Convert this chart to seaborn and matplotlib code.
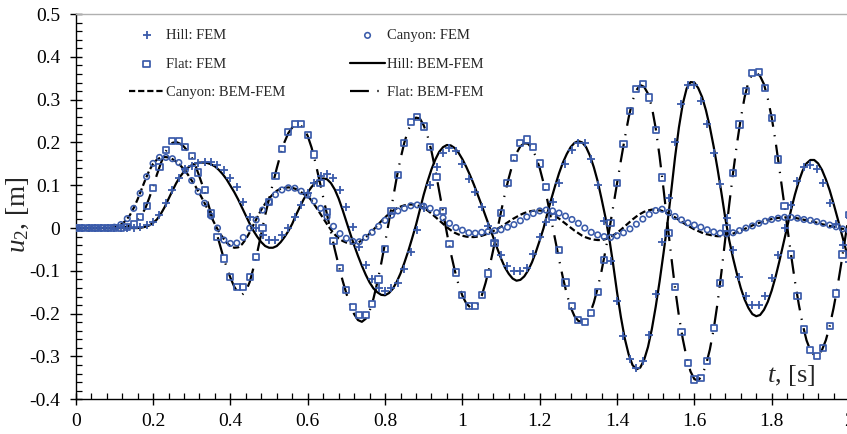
import numpy as np
import pandas as pd
import matplotlib
matplotlib.use("Agg")
import matplotlib.pyplot as plt
from matplotlib.ticker import MultipleLocator, FuncFormatter
import seaborn as sns

# ---------------- data ----------------
# FEM results are sampled every 1/60 s, BEM-FEM curves every 0.01 s
t_fem = np.linspace(0.0, 2.0, 121)
t_bem = np.linspace(0.0, 2.0, 201)

hill_fem = [
    0, 0, 0, 0, 0, 0, 0, 0, 0, 0,
    0.002, 0.007, 0.015, 0.030, 0.058, 0.089, 0.118, 0.137, 0.146, 0.151,
    0.155, 0.155, 0.148, 0.136, 0.117, 0.095, 0.062, 0.026, 0.000, -0.016,
    -0.028, -0.028, -0.016, 0.000, 0.026, 0.054, 0.083, 0.106, 0.122, 0.127,
    0.116, 0.089, 0.050, 0.003, -0.045, -0.086, -0.118, -0.140, -0.146, -0.141,
    -0.128, -0.096, -0.057, -0.005, 0.048, 0.100, 0.142, 0.175, 0.186, 0.181,
    0.150, 0.115, 0.085, 0.050, 0.005, -0.030, -0.063, -0.089, -0.100, -0.101,
    -0.094, -0.060, -0.020, 0.015, 0.060, 0.106, 0.150, 0.182, 0.199, 0.198,
    0.161, 0.100, 0.016, -0.077, -0.170, -0.253, -0.307, -0.328, -0.310, -0.250,
    -0.153, -0.032, 0.070, 0.200, 0.290, 0.334, 0.334, 0.297, 0.243, 0.176,
    0.103, 0.023, -0.051, -0.114, -0.159, -0.180, -0.180, -0.159, -0.117, -0.063,
    0.000, 0.054, 0.111, 0.143, 0.147, 0.137, 0.105, 0.059, 0.010, -0.040,
    -0.080,
]

canyon_fem = [
    0, 0, 0, 0, 0, 0, 0.002, 0.008, 0.022, 0.046,
    0.081, 0.120, 0.151, 0.165, 0.165, 0.162, 0.153, 0.135, 0.111, 0.085,
    0.058, 0.028, 0.000, -0.028, -0.036, -0.035, -0.022, 0.000, 0.019, 0.042,
    0.061, 0.078, 0.089, 0.094, 0.093, 0.086, 0.077, 0.063, 0.046, 0.026,
    0.004, -0.013, -0.024, -0.031, -0.032, -0.022, -0.010, 0.004, 0.018, 0.030,
    0.040, 0.046, 0.052, 0.054, 0.051, 0.046, 0.036, 0.024, 0.011, 0.001,
    -0.005, -0.011, -0.012, -0.010, -0.008, -0.006, -0.004, 0.002, 0.008, 0.017,
    0.026, 0.034, 0.040, 0.042, 0.040, 0.035, 0.028, 0.020, 0.011, 0.000,
    -0.010, -0.016, -0.020, -0.022, -0.018, -0.011, -0.002, 0.009, 0.021, 0.032,
    0.041, 0.044, 0.037, 0.027, 0.019, 0.012, 0.007, 0.002, -0.004, -0.009,
    -0.012, -0.013, -0.011, -0.006, 0.000, 0.005, 0.011, 0.016, 0.020, 0.023,
    0.025, 0.025, 0.023, 0.020, 0.018, 0.015, 0.011, 0.007, 0.003, -0.002,
    -0.006,
]

flat_fem = [
    0, 0, 0, 0, 0, 0, 0, 0.000, 0.003, 0.009,
    0.025, 0.052, 0.094, 0.143, 0.182, 0.203, 0.203, 0.189, 0.168, 0.130,
    0.089, 0.034, -0.020, -0.071, -0.114, -0.137, -0.137, -0.114, -0.067, 0.000,
    0.060, 0.121, 0.184, 0.225, 0.243, 0.243, 0.217, 0.172, 0.105, 0.038,
    -0.030, -0.094, -0.145, -0.184, -0.203, -0.203, -0.178, -0.120, -0.049, 0.040,
    0.124, 0.198, 0.247, 0.260, 0.237, 0.189, 0.120, 0.040, -0.037, -0.104,
    -0.157, -0.183, -0.182, -0.157, -0.106, -0.035, 0.036, 0.106, 0.164, 0.198,
    0.207, 0.190, 0.151, 0.095, 0.025, -0.051, -0.127, -0.182, -0.215, -0.220,
    -0.198, -0.149, -0.075, 0.012, 0.106, 0.196, 0.274, 0.324, 0.336, 0.305,
    0.229, 0.118, -0.011, -0.137, -0.242, -0.315, -0.354, -0.351, -0.310, -0.234,
    -0.128, 0.000, 0.129, 0.242, 0.320, 0.363, 0.365, 0.328, 0.258, 0.160,
    0.051, -0.062, -0.159, -0.237, -0.285, -0.299, -0.280, -0.229, -0.153, -0.062,
    0.030,
]

hill_bem = [
    0, 0, 0, 0, 0, 0, 0, 0, 0, 0,
    0, 0, 0, 0, 0, 0, 0, 0.001, 0.003, 0.006,
    0.012, 0.020, 0.033, 0.049, 0.068, 0.087, 0.105, 0.120, 0.132, 0.141,
    0.147, 0.151, 0.153, 0.153, 0.152, 0.149, 0.144, 0.136, 0.126, 0.114,
    0.099, 0.084, 0.067, 0.048, 0.029, 0.010, -0.007, -0.021, -0.033, -0.042,
    -0.046, -0.046, -0.042, -0.033, -0.021, -0.007, 0.010, 0.031, 0.050, 0.068,
    0.083, 0.096, 0.106, 0.113, 0.116, 0.114, 0.105, 0.090, 0.069, 0.043,
    0.015, -0.013, -0.040, -0.065, -0.088, -0.109, -0.127, -0.141, -0.150, -0.156,
    -0.157, -0.152, -0.142, -0.126, -0.106, -0.081, -0.054, -0.024, 0.007, 0.043,
    0.078, 0.109, 0.137, 0.160, 0.178, 0.189, 0.194, 0.193, 0.187, 0.176,
    0.161, 0.143, 0.123, 0.101, 0.077, 0.053, 0.028, 0.003, -0.022, -0.047,
    -0.071, -0.092, -0.107, -0.118, -0.123, -0.121, -0.113, -0.099, -0.080, -0.056,
    -0.029, 0.000, 0.035, 0.068, 0.099, 0.128, 0.153, 0.173, 0.189, 0.199,
    0.203, 0.200, 0.189, 0.169, 0.142, 0.109, 0.068, 0.025, -0.025, -0.085,
    -0.150, -0.208, -0.258, -0.295, -0.320, -0.330, -0.326, -0.308, -0.278, -0.236,
    -0.184, -0.125, -0.060, 0.008, 0.085, 0.165, 0.235, 0.290, 0.326, 0.341,
    0.340, 0.327, 0.306, 0.275, 0.236, 0.190, 0.138, 0.082, 0.023, -0.028,
    -0.070, -0.107, -0.140, -0.167, -0.187, -0.201, -0.206, -0.203, -0.191, -0.172,
    -0.146, -0.114, -0.077, -0.037, 0.004, 0.042, 0.078, 0.109, 0.134, 0.151,
    0.159, 0.159, 0.151, 0.136, 0.114, 0.088, 0.057, 0.024, -0.010, -0.045,
    -0.078,
]

canyon_bem = [
    0, 0, 0, 0, 0, 0, 0, 0, 0, 0,
    0.002, 0.005, 0.010, 0.018, 0.030, 0.047, 0.067, 0.090, 0.113, 0.134,
    0.150, 0.160, 0.165, 0.166, 0.165, 0.161, 0.155, 0.147, 0.137, 0.125,
    0.111, 0.097, 0.081, 0.064, 0.046, 0.027, 0.009, -0.008, -0.022, -0.034,
    -0.042, -0.046, -0.045, -0.038, -0.026, -0.010, 0.008, 0.026, 0.043, 0.057,
    0.069, 0.079, 0.087, 0.092, 0.094, 0.095, 0.094, 0.091, 0.086, 0.079,
    0.075, 0.064, 0.051, 0.037, 0.023, 0.009, -0.004, -0.015, -0.024, -0.030,
    -0.034, -0.036, -0.036, -0.034, -0.029, -0.022, -0.013, -0.004, 0.006, 0.016,
    0.025, 0.033, 0.040, 0.046, 0.050, 0.053, 0.055, 0.055, 0.054, 0.051,
    0.047, 0.041, 0.034, 0.026, 0.018, 0.010, 0.002, -0.005, -0.011, -0.015,
    -0.018, -0.020, -0.021, -0.021, -0.020, -0.018, -0.015, -0.011, -0.007, -0.002,
    0.003, 0.009, 0.015, 0.021, 0.026, 0.031, 0.035, 0.038, 0.040, 0.041,
    0.041, 0.040, 0.037, 0.033, 0.028, 0.022, 0.015, 0.008, 0.001, -0.006,
    -0.012, -0.018, -0.022, -0.025, -0.027, -0.028, -0.028, -0.026, -0.022, -0.017,
    -0.011, -0.004, 0.004, 0.012, 0.020, 0.027, 0.033, 0.038, 0.041, 0.043,
    0.043, 0.042, 0.039, 0.035, 0.030, 0.025, 0.019, 0.013, 0.007, 0.002,
    -0.003, -0.007, -0.011, -0.014, -0.016, -0.018, -0.019, -0.019, -0.018, -0.016,
    -0.013, -0.010, -0.006, -0.002, 0.002, 0.006, 0.010, 0.013, 0.016, 0.019,
    0.021, 0.023, 0.024, 0.025, 0.025, 0.025, 0.024, 0.022, 0.020, 0.018,
    0.016, 0.014, 0.012, 0.009, 0.007, 0.005, 0.003, 0.001, -0.001, -0.003,
    -0.005,
]

flat_bem = [
    0, 0, 0, 0, 0, 0, 0, 0, 0, 0,
    0, 0, 0.001, 0.003, 0.006, 0.011, 0.019, 0.030, 0.046, 0.070,
    0.096, 0.125, 0.151, 0.174, 0.190, 0.199, 0.201, 0.197, 0.190, 0.179,
    0.165, 0.145, 0.120, 0.094, 0.064, 0.034, 0.002, -0.030, -0.062, -0.091,
    -0.116, -0.137, -0.152, -0.156, -0.148, -0.126, -0.092, -0.055, -0.013, 0.030,
    0.068, 0.104, 0.140, 0.173, 0.201, 0.222, 0.235, 0.241, 0.241, 0.233,
    0.215, 0.188, 0.153, 0.113, 0.072, 0.031, -0.010, -0.050, -0.087, -0.122,
    -0.153, -0.180, -0.201, -0.215, -0.219, -0.212, -0.194, -0.165, -0.127, -0.083,
    -0.035, 0.016, 0.068, 0.117, 0.162, 0.200, 0.229, 0.249, 0.258, 0.256,
    0.240, 0.215, 0.180, 0.136, 0.087, 0.037, -0.012, -0.058, -0.098, -0.132,
    -0.158, -0.176, -0.185, -0.186, -0.177, -0.158, -0.128, -0.092, -0.050, -0.006,
    0.038, 0.080, 0.117, 0.150, 0.175, 0.191, 0.198, 0.197, 0.186, 0.167,
    0.140, 0.105, 0.064, 0.019, -0.027, -0.073, -0.116, -0.154, -0.185, -0.206,
    -0.217, -0.219, -0.213, -0.200, -0.174, -0.140, -0.100, -0.053, -0.004, 0.050,
    0.104, 0.158, 0.210, 0.258, 0.297, 0.322, 0.334, 0.330, 0.314, 0.283,
    0.233, 0.168, 0.093, 0.014, -0.065, -0.140, -0.205, -0.259, -0.303, -0.335,
    -0.353, -0.356, -0.344, -0.320, -0.284, -0.236, -0.175, -0.103, -0.025, 0.054,
    0.128, 0.196, 0.256, 0.306, 0.342, 0.360, 0.363, 0.355, 0.336, 0.302,
    0.258, 0.202, 0.138, 0.072, 0.004, -0.062, -0.124, -0.178, -0.225, -0.262,
    -0.286, -0.297, -0.297, -0.285, -0.262, -0.229, -0.187, -0.138, -0.082, -0.024,
    0.034,
]

x_ticks = [0, 0.2, 0.4, 0.6, 0.8, 1.0, 1.2, 1.4, 1.6, 1.8, 2.0]
y_ticks = [-0.4, -0.3, -0.2, -0.1, 0.0, 0.1, 0.2, 0.3, 0.4, 0.5]

# ---------------- style ----------------
sns.set_style("ticks")
plt.rcParams["font.family"] = ["Liberation Serif", "DejaVu Serif"]
plt.rcParams["mathtext.fontset"] = "custom"
plt.rcParams["mathtext.rm"] = "Liberation Serif"
plt.rcParams["mathtext.it"] = "Liberation Serif:italic"
plt.rcParams["axes.unicode_minus"] = False

BLUE = "#3A5BAA"

fem = pd.DataFrame({"t": t_fem, "hill": hill_fem, "canyon": canyon_fem, "flat": flat_fem})
bem = pd.DataFrame({"t": t_bem, "hill": hill_bem, "canyon": canyon_bem, "flat": flat_bem})

fig = plt.figure(figsize=(8.47, 4.34), dpi=100)
ax = fig.add_axes([0.0894, 0.080, 0.9130, 0.8877])

LW = 1.6
sns.lineplot(data=bem, x="t", y="hill", ax=ax, color="black", linewidth=LW,
             estimator=None, sort=False, label="Hill: BEM-FEM", zorder=2)
sns.lineplot(data=bem, x="t", y="canyon", ax=ax, color="black", linewidth=LW,
             linestyle=(0, (2.8, 1.3)), estimator=None, sort=False,
             label="Canyon: BEM-FEM", zorder=2)
sns.lineplot(data=bem, x="t", y="flat", ax=ax, color="black", linewidth=LW,
             linestyle=(0, (8.5, 3.8, 0.6, 3.8)), estimator=None, sort=False,
             label="Flat: BEM-FEM", zorder=2)

sns.scatterplot(data=fem, x="t", y="hill", ax=ax, marker="+", color=BLUE,
                s=34, linewidth=1.3, label="Hill: FEM", zorder=3)
sns.scatterplot(data=fem, x="t", y="canyon", ax=ax, marker="o", facecolor="none",
                edgecolor=BLUE, s=16, linewidth=1.15, label="Canyon: FEM", zorder=3)
sns.scatterplot(data=fem, x="t", y="flat", ax=ax, marker="s", facecolor="none",
                edgecolor=BLUE, s=20, linewidth=1.25, label="Flat: FEM", zorder=3)

ax.set_xlim(0, 2)
ax.set_ylim(-0.4, 0.5)
ax.set_xticks(x_ticks)
ax.set_yticks(y_ticks)
fmt = FuncFormatter(lambda v, p: ("%g" % round(v, 3)) if abs(v) > 1e-9 else "0")
ax.xaxis.set_major_formatter(fmt)
ax.yaxis.set_major_formatter(fmt)
ax.xaxis.set_minor_locator(MultipleLocator(0.04))
ax.yaxis.set_minor_locator(MultipleLocator(0.02))
ax.tick_params(which="major", direction="inout", length=9, width=1.0,
               colors="black", labelsize=14)
ax.tick_params(which="minor", direction="in", length=4, width=0.9, colors="black")
ax.tick_params(axis="y", pad=6.5)
ax.tick_params(axis="x", pad=5.5)

for side in ("left", "bottom"):
    ax.spines[side].set_color("black")
    ax.spines[side].set_linewidth(1.0)
ax.spines["top"].set_visible(True)
ax.spines["top"].set_color("#B0B0B0")
ax.spines["top"].set_linewidth(1.0)
ax.spines["right"].set_visible(False)

ax.set_ylabel(r"$\mathit{u}_2$, [m]", fontsize=19.5)
ax.yaxis.set_label_coords(-0.058, 0.478)
ax.set_xlabel(r"$\mathit{t}$, [s]", fontsize=19)
ax.xaxis.set_label_coords(0.925, 0.094)

handles, labels = ax.get_legend_handles_labels()
order = ["Hill: FEM", "Flat: FEM", "Canyon: BEM-FEM",
         "Canyon: FEM", "Hill: BEM-FEM", "Flat: BEM-FEM"]
hmap = dict(zip(labels, handles))
ax.legend([hmap[k] for k in order], order, ncol=2, loc="upper left",
          bbox_to_anchor=(129 / 847, 1 - 29 / 434), bbox_transform=fig.transFigure,
          frameon=False, fontsize=10.5, handlelength=2.4, handletextpad=0.15,
          columnspacing=4.43, labelspacing=1.05, borderaxespad=0, borderpad=0,
          scatterpoints=1)

fig.savefig("out.png", dpi=100)
